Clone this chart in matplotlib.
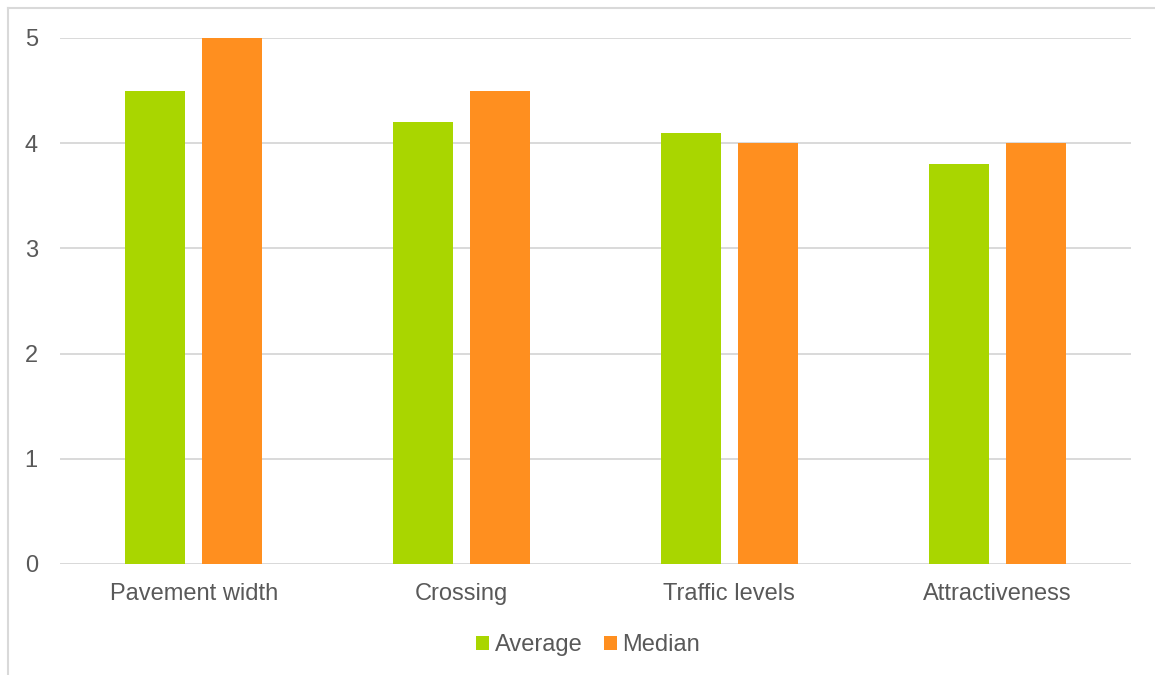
import matplotlib
matplotlib.use("Agg")
import matplotlib.pyplot as plt
import numpy as np
from matplotlib.lines import Line2D
from matplotlib.patches import Patch

categories = ["Pavement width", "Crossing", "Traffic levels", "Attractiveness"]
average = [4.5, 4.2, 4.1, 3.8]
median = [5.0, 4.5, 4.0, 4.0]
series_names = ["Average", "Median"]
colors = ["#A9D600", "#FF8F1F"]
text_color = "#595959"
grid_color = "#D9D9D9"

plt.rcParams['font.family'] = ['Liberation Sans', 'DejaVu Sans']

W, H = 1155, 675
fig = plt.figure(figsize=(W/100, H/100), dpi=100)
ax = fig.add_axes([60/W, 1-564/H, (1131-60)/W, (564-38)/H])

x = np.arange(len(categories))
bw = 0.224
off = 0.144
ax.bar(x - off, average, bw, color=colors[0], zorder=3)
ax.bar(x + off, median, bw, color=colors[1], zorder=3)

ax.set_xlim(-0.5, len(categories) - 0.5)
ax.set_ylim(0, 5)
ax.set_yticks(range(0, 6))
ax.yaxis.grid(True, color=grid_color, linewidth=1.4, zorder=0)
ax.set_axisbelow(True)
for s in ax.spines.values():
    s.set_visible(False)
ax.set_xticks(x)
ax.set_xticklabels(categories)
ax.tick_params(axis='x', length=0, pad=14, labelsize=17, labelcolor=text_color)
ax.tick_params(axis='y', length=0, pad=16, labelsize=17, labelcolor=text_color)
ax.axhline(0, color=grid_color, linewidth=1.4, zorder=2)

# outer frame (only top and left visible)
fig.add_artist(Line2D([8/W, 8/W], [0, 1-8/H], transform=fig.transFigure, color=grid_color, linewidth=1.5))
fig.add_artist(Line2D([8/W, 1], [1-8/H, 1-8/H], transform=fig.transFigure, color=grid_color, linewidth=1.5))

handles = [Patch(facecolor=c, edgecolor='none') for c in colors]
fig.legend(handles, series_names, loc='center', bbox_to_anchor=(588/W, 1-645/H),
           ncol=2, frameon=False, fontsize=17, labelcolor=text_color,
           handlelength=0.55, handleheight=0.55, handletextpad=0.25, columnspacing=0.9)

fig.savefig("out.png", dpi=100, facecolor="white")
